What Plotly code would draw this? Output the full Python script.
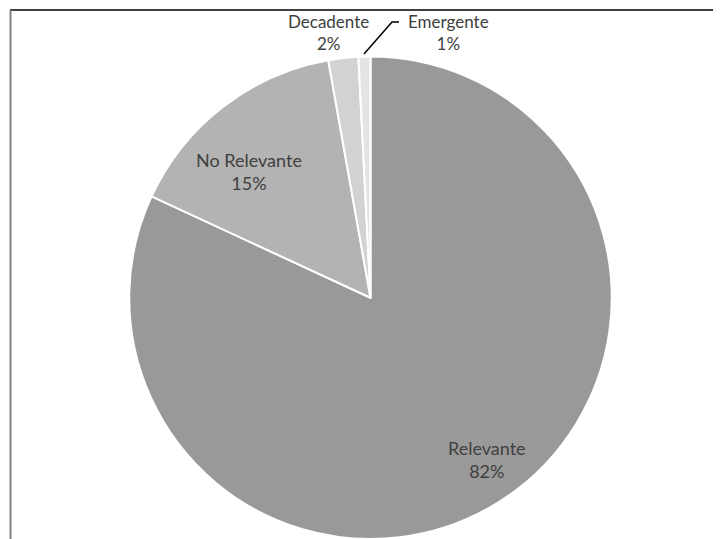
import plotly.graph_objects as go

labels = ["Relevante", "No Relevante", "Decadente", "Emergente"]
values = [81.9, 15.3, 2.0, 0.8]
colors = ["#999999", "#b3b3b3", "#d2d2d2", "#e4e4e4"]

OFF = 8  # page body margin offset
W, H = 721 - OFF, 539 - OFF
total = sum(values)
pcts = [round(v / total * 100) for v in values]


def px(x):
    return (x - OFF) / W


def py(y):
    return 1 - (y - OFF) / H


# label block centres (reference pixels, from top-left) and font sizes
label_pos = [(487, 459), (249, 171), (328, 32), (448, 32)]
label_size = [18, 18, 17, 17]

fig = go.Figure(go.Pie(
    labels=labels, values=values, sort=False, direction="clockwise", rotation=0,
    marker=dict(colors=colors, line=dict(color="white", width=2)),
    textinfo="none", hoverinfo="label+percent", showlegend=False,
    domain=dict(x=[px(129), px(612)], y=[0, py(56.5)]),
))

for (lab, p, (lx, ly), fs) in zip(labels, pcts, label_pos, label_size):
    fig.add_annotation(x=px(lx), y=py(ly), xref="paper", yref="paper",
                       text=f"{lab}<br>{p}%", showarrow=False,
                       font=dict(family="Lato, Open Sans, sans-serif", size=fs, color="#404040"),
                       xanchor="center", yanchor="middle", align="center")

# leader line for Emergente
fig.add_shape(type="path", xref="paper", yref="paper",
              path=f"M {px(364)},{py(54)} L {px(392)},{py(22)} L {px(399)},{py(22)}",
              line=dict(color="#000000", width=1.5))

# frame lines
fig.add_shape(type="line", xref="paper", yref="paper", x0=px(10), x1=1, y0=py(10), y1=py(10),
              line=dict(color="#000000", width=1.5))
fig.add_shape(type="line", xref="paper", yref="paper", x0=px(10.5), x1=px(10.5), y0=0, y1=py(10),
              line=dict(color="#808080", width=2))

fig.update_layout(width=W, height=H, margin=dict(l=0, r=0, t=0, b=0),
                  paper_bgcolor="white", plot_bgcolor="white")
fig.write_html("out.html")
